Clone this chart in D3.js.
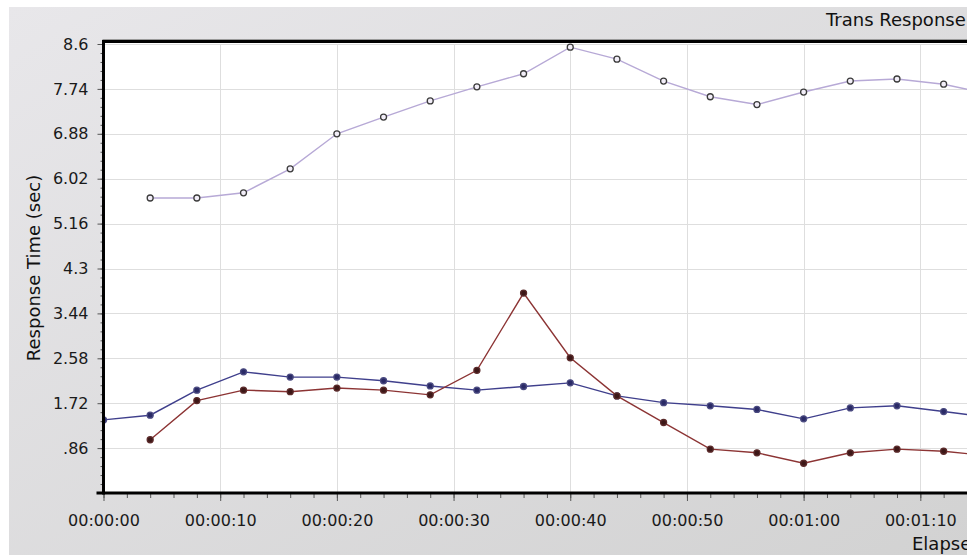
<!DOCTYPE html>
<html>
<head>
<meta charset="utf-8">
<script src="https://cdn.jsdelivr.net/npm/d3@7"></script>
<style>
  body { margin: 0; background: #fff; overflow: hidden; }
  svg { display: block; font-family: "DejaVu Sans", sans-serif; }
</style>
</head>
<body>
<svg width="967" height="555"></svg>
<script>
// elapsed seconds of each sample
var times = [0, 4, 8, 12, 16, 20, 24, 28, 32, 36, 40, 44, 48, 52, 56, 60, 64, 68, 72, 76];
var purpleVals = [null, 5.65, 5.65, 5.75, 6.21, 6.88, 7.20, 7.51, 7.78, 8.03, 8.54, 8.31, 7.89, 7.59, 7.44, 7.68, 7.89, 7.93, 7.83, 7.64];
var blueVals = [1.40, 1.49, 1.97, 2.32, 2.22, 2.22, 2.15, 2.05, 1.97, 2.04, 2.11, 1.86, 1.73, 1.67, 1.60, 1.42, 1.63, 1.67, 1.56, 1.45];
var redVals = [null, 1.02, 1.77, 1.97, 1.94, 2.01, 1.97, 1.88, 2.35, 3.83, 2.59, 1.86, 1.35, 0.84, 0.77, 0.57, 0.77, 0.84, 0.80, 0.71];

var xTicks = [0, 10, 20, 30, 40, 50, 60, 70];
var xTickLabels = ['00:00:00', '00:00:10', '00:00:20', '00:00:30', '00:00:40', '00:00:50', '00:01:00', '00:01:10'];
var yTicks = [0.86, 1.72, 2.58, 3.44, 4.3, 5.16, 6.02, 6.88, 7.74, 8.6];
var yTickLabels = ['.86', '1.72', '2.58', '3.44', '4.3', '5.16', '6.02', '6.88', '7.74', '8.6'];

var svg = d3.select('svg');
var padLeft = 103.5, padTop = 44, padBottom = 493, padRight = 1037;

var xScale = d3.scaleLinear().domain([0, 80]).range([padLeft, padRight]);
var yScale = d3.scaleLinear().domain([0, 8.6]).range([padBottom, padTop]);

// background panel
var defs = svg.append('defs');
var grad = defs.append('linearGradient').attr('id', 'bg')
    .attr('x1', 0).attr('y1', 0).attr('x2', 1).attr('y2', 1);
grad.append('stop').attr('offset', '0%').attr('stop-color', '#e8e7ea');
grad.append('stop').attr('offset', '100%').attr('stop-color', '#d2d2d2');
defs.append('clipPath').attr('id', 'plotclip')
    .append('rect').attr('x', padLeft).attr('y', padTop - 2)
    .attr('width', padRight - padLeft).attr('height', padBottom - padTop + 2);

svg.append('rect').attr('x', 9).attr('y', 7).attr('width', 958).attr('height', 548).attr('fill', 'url(#bg)');
svg.append('rect').attr('x', padLeft).attr('y', padTop - 2)
    .attr('width', padRight - padLeft).attr('height', padBottom - padTop + 2).attr('fill', '#fff');

// grid
var grid = svg.append('g').attr('clip-path', 'url(#plotclip)');
grid.selectAll(null).data(yTicks).enter().append('line')
    .attr('x1', padLeft).attr('x2', padRight)
    .attr('y1', function(d) { return Math.round(yScale(d)) + 0.5; })
    .attr('y2', function(d) { return Math.round(yScale(d)) + 0.5; })
    .attr('stroke', '#dedede');
grid.selectAll(null).data(xTicks.slice(1)).enter().append('line')
    .attr('y1', padTop).attr('y2', padBottom)
    .attr('x1', function(d) { return Math.round(xScale(d)) + 0.5; })
    .attr('x2', function(d) { return Math.round(xScale(d)) + 0.5; })
    .attr('stroke', '#dedede');

// series
var series = [
    { vals: purpleVals, line: '#b7a9d6', dot: '#f2eef8', dotStroke: '#3c3c3c' },
    { vals: blueVals, line: '#3f3f8c', dot: '#2a2a66', dotStroke: '#4a4a80' },
    { vals: redVals, line: '#8c3434', dot: '#3d1717', dotStroke: '#5a2a2a' }
];

var plot = svg.append('g').attr('clip-path', 'url(#plotclip)');
series.forEach(function(s) {
    var pts = times.map(function(t, i) { return { t: t, v: s.vals[i] }; })
        .filter(function(d) { return d.v !== null; });
    var line = d3.line()
        .x(function(d) { return xScale(d.t); })
        .y(function(d) { return yScale(d.v); });
    plot.append('path').datum(pts)
        .attr('d', line)
        .attr('fill', 'none')
        .attr('stroke', s.line)
        .attr('stroke-width', 1.4);
    plot.selectAll(null).data(pts).enter().append('circle')
        .attr('cx', function(d) { return xScale(d.t); })
        .attr('cy', function(d) { return yScale(d.v); })
        .attr('r', 3)
        .attr('fill', s.dot)
        .attr('stroke', s.dotStroke)
        .attr('stroke-width', 1.3);
});

// axes
var minorY = d3.range(0, 8.6 + 0.001, 0.172);
svg.append('g').attr('transform', 'translate(' + padLeft + ',0)')
    .call(d3.axisLeft(yScale).tickValues(minorY).tickSize(3).tickFormat(''))
    .call(function(g) { g.select('.domain').remove(); g.selectAll('line').attr('stroke', '#555'); });
var yAxis = svg.append('g').attr('transform', 'translate(' + padLeft + ',0)')
    .call(d3.axisLeft(yScale).tickValues([0].concat(yTicks)).tickSize(6).tickPadding(9)
        .tickFormat(function(d, i) { return i === 0 ? '' : yTickLabels[i - 1]; }));
yAxis.select('.domain').remove();
yAxis.selectAll('line').attr('stroke', '#555');
yAxis.selectAll('text').attr('font-size', 16).attr('font-family', 'DejaVu Sans').attr('fill', '#1a1a1a');

var minorX = d3.range(0, 80, 2);
svg.append('g').attr('transform', 'translate(0,' + padBottom + ')')
    .call(d3.axisBottom(xScale).tickValues(minorX).tickSize(5).tickFormat(''))
    .call(function(g) { g.select('.domain').remove(); g.selectAll('line').attr('stroke', '#555'); });
var xAxis = svg.append('g').attr('transform', 'translate(0,' + padBottom + ')')
    .call(d3.axisBottom(xScale).tickValues(xTicks).tickSize(8)
        .tickFormat(function(d, i) { return xTickLabels[i]; }));
xAxis.select('.domain').remove();
xAxis.selectAll('line').attr('stroke', '#555');
xAxis.selectAll('text').attr('y', 22).attr('dy', '0.71em')
    .attr('font-size', 16).attr('font-family', 'DejaVu Sans').attr('fill', '#1a1a1a');

// thick frame lines
svg.append('line').attr('x1', padLeft - 1).attr('x2', 967).attr('y1', padTop - 4.5).attr('y2', padTop - 4.5)
    .attr('stroke', '#9a9a9a').attr('stroke-width', 1);
svg.append('line').attr('x1', padLeft - 1.5).attr('x2', 967).attr('y1', padTop - 2.5).attr('y2', padTop - 2.5)
    .attr('stroke', '#000').attr('stroke-width', 3);
svg.append('line').attr('x1', padLeft).attr('x2', padLeft).attr('y1', padTop - 4).attr('y2', padBottom + 1.5)
    .attr('stroke', '#000').attr('stroke-width', 3);
svg.append('line').attr('x1', padLeft - 7).attr('x2', 967).attr('y1', padBottom).attr('y2', padBottom)
    .attr('stroke', '#000').attr('stroke-width', 3);

// titles
svg.append('text').attr('x', 826).attr('y', 26)
    .attr('font-size', 18).attr('fill', '#111').text('Trans Response Time');
svg.append('text')
    .attr('transform', 'translate(40,268) rotate(-90)')
    .attr('text-anchor', 'middle')
    .attr('font-size', 18).attr('fill', '#111').text('Response Time (sec)');
svg.append('text').attr('x', 912).attr('y', 550)
    .attr('font-size', 18).attr('fill', '#111').text('Elapsed scenario time');
</script>
</body>
</html>
